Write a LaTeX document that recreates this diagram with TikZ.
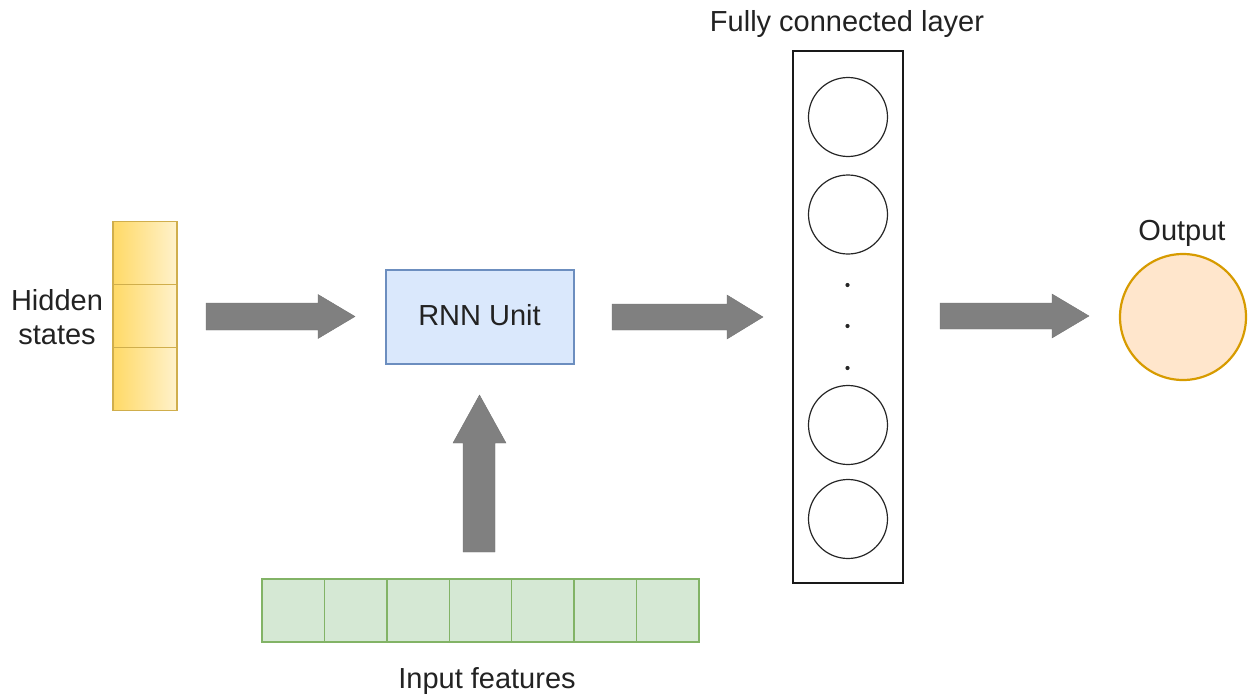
\documentclass[tikz,border=0pt]{standalone}
\usepackage{fontspec}
\setmainfont{Liberation Sans}
\definecolor{txt}{HTML}{222222}
\definecolor{hsdark}{HTML}{FFD966}
\definecolor{hslight}{HTML}{FFF2CC}
\definecolor{hsedge}{HTML}{D0AE4C}
\definecolor{rnnfill}{HTML}{DAE8FC}
\definecolor{rnnedge}{HTML}{6C8EBF}
\definecolor{infill}{HTML}{D5E8D4}
\definecolor{inedge}{HTML}{82B366}
\definecolor{outfill}{HTML}{FFE6CC}
\definecolor{outedge}{HTML}{D79B00}
\definecolor{arrowgray}{HTML}{808080}
\begin{document}
\begin{tikzpicture}[x=1pt,y=-1pt,
  lbl/.style={font=\fontsize{29}{34}\selectfont, text=txt, inner sep=0pt},
  hcell/.style={draw=hsedge, line width=1.4pt, left color=hsdark, right color=hslight,
                minimum width=64pt, minimum height=63pt, inner sep=0pt},
  icell/.style={draw=inedge, line width=1.4pt, fill=infill,
                minimum width=62.43pt, minimum height=63pt, inner sep=0pt},
  neuron/.style={circle, draw=black!85, line width=1.2pt, minimum size=79pt, inner sep=0pt},
  dotmark/.style={circle, fill=black!85, minimum size=4.2pt, inner sep=0pt},
  blockarrow/.style={fill=arrowgray, draw=arrowgray!90!black, line width=0.4pt}]
\useasboundingbox (0,0) rectangle (1248,696);

% hidden state vector
\node[hcell] (h1) at (145,253) {};
\node[hcell] (h2) at (145,316) {};
\node[hcell] (h3) at (145,379) {};
\node[lbl, anchor=base] (hlab1) at (57,310) {Hidden};
\node[lbl, anchor=base] (hlab2) at (57,344) {states};

% recurrent unit
\node[draw=rnnedge, fill=rnnfill, line width=1.2pt, minimum width=188pt, minimum height=94pt, inner sep=0pt] (rnn) at (480,317) {};
\node[lbl, anchor=base] (rnnlab) at (479.5,325) {RNN Unit};

% input feature vector
\foreach \i in {1,...,7} {
  \node[icell] (in\i) at ({262+62.43*(\i-0.5)},610.5) {};
}
\node[lbl, anchor=base] (inlab) at (487,688) {Input features};

% fully connected layer
\node[draw=black!90, line width=1.5pt, minimum width=110pt, minimum height=532pt, inner sep=0pt] (fc) at (848,317) {};
\node[lbl, anchor=base] (fclab) at (847,31) {Fully connected layer};
\node[neuron] (n1) at (848,117) {};
\node[neuron] (n2) at (848,214.5) {};
\node[dotmark] (d1) at (847.5,285) {};
\node[dotmark] (d2) at (847.5,326) {};
\node[dotmark] (d3) at (847.5,368) {};
\node[neuron] (n3) at (848,425) {};
\node[neuron] (n4) at (848,519) {};

% output unit
\node[circle, draw=outedge, fill=outfill, line width=2.2pt, minimum size=126pt, inner sep=0pt] (out) at (1183,317) {};
\node[lbl, anchor=base] (outlab) at (1182,240) {Output};

% block arrows
\fill[blockarrow] (206,303) -- (318,303) -- (318,294.5) -- (355,316.5) -- (318,338.5) -- (318,330) -- (206,330) -- cycle;
\fill[blockarrow] (612,304) -- (727,304) -- (727,295) -- (763,317) -- (727,339) -- (727,330) -- (612,330) -- cycle;
\fill[blockarrow] (940,303) -- (1052,303) -- (1052,294) -- (1089,316) -- (1052,338) -- (1052,329) -- (940,329) -- cycle;
\fill[blockarrow] (463,552) -- (463,443) -- (453,443) -- (479.5,395) -- (506,443) -- (495,443) -- (495,552) -- cycle;
\end{tikzpicture}
\end{document}
